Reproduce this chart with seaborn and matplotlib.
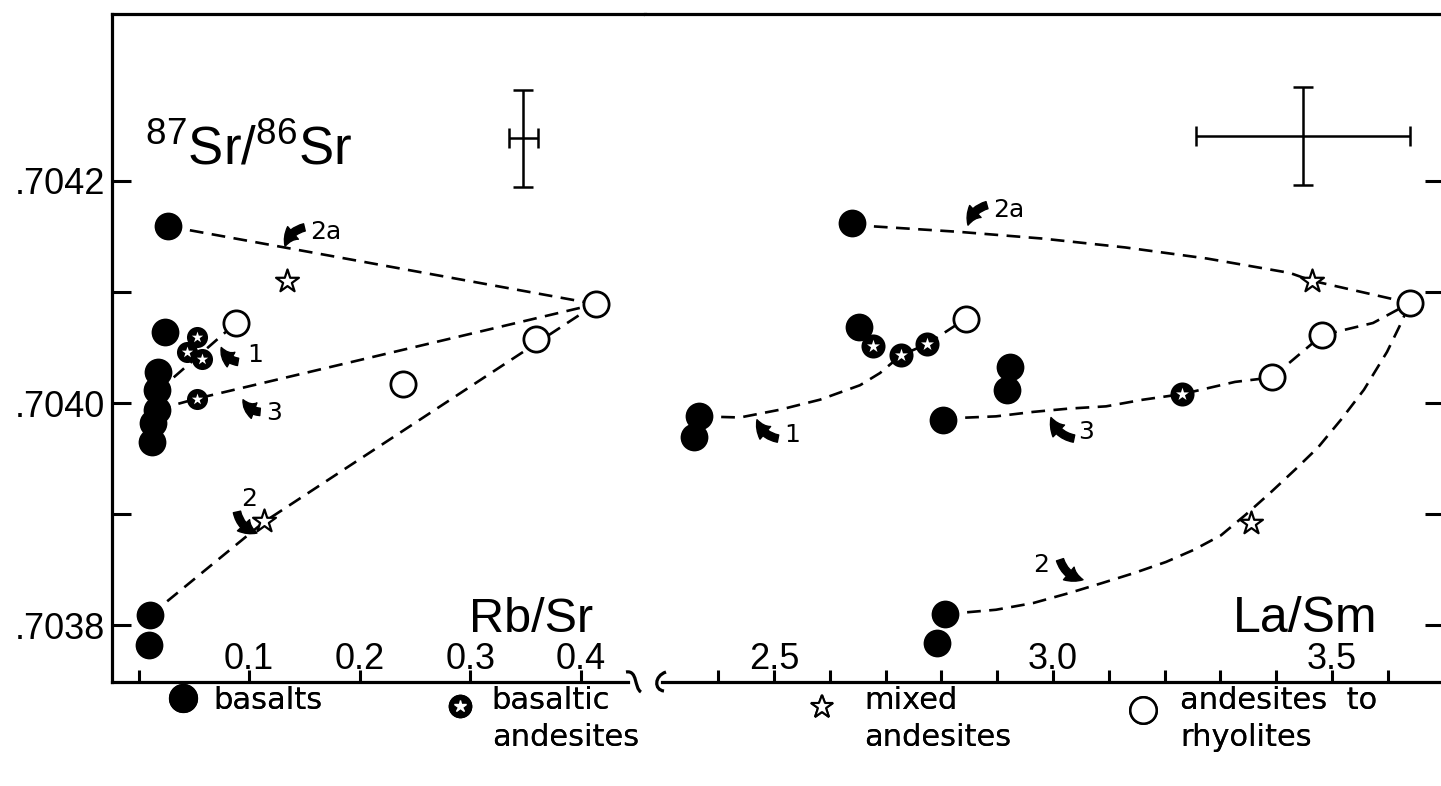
import matplotlib
matplotlib.use("Agg")
import numpy as np
import matplotlib.pyplot as plt
import seaborn as sns
from matplotlib.lines import Line2D
from matplotlib.path import Path
from matplotlib.patches import PathPatch
from matplotlib.legend_handler import HandlerTuple, HandlerLine2D
from matplotlib.transforms import IdentityTransform

# ---------------- Rb/Sr panel ----------------
rbsr_basalt_x = [0.0267, 0.0240, 0.0176, 0.0167, 0.0167, 0.0131, 0.0122, 0.0104, 0.0095]
rbsr_basalt_y = [0.704159, 0.704064, 0.704028, 0.704012, 0.703994, 0.703982, 0.703965, 0.703809, 0.703782]
rbsr_basand_x = [0.0529, 0.0439, 0.0574, 0.0529]
rbsr_basand_y = [0.704059, 0.704046, 0.704040, 0.704004]
rbsr_mixed_x = [0.1343, 0.1135]
rbsr_mixed_y = [0.704110, 0.703894]
rbsr_silicic_x = [0.0882, 0.2392, 0.3594, 0.4137]
rbsr_silicic_y = [0.704072, 0.704017, 0.704058, 0.704089]

rbsr_curve_2a_x = [0.0267, 0.4137]
rbsr_curve_2a_y = [0.704159, 0.704089]
rbsr_curve_1_x = [0.0167, 0.0882]
rbsr_curve_1_y = [0.704010, 0.704072]
rbsr_curve_3_x = [0.0167, 0.0529, 0.4137]
rbsr_curve_3_y = [0.703994, 0.704004, 0.704089]
rbsr_curve_2_x = [0.0104, 0.1135, 0.4137]
rbsr_curve_2_y = [0.703809, 0.703893, 0.704089]

# ---------------- La/Sm panel ----------------
lasm_basalt_x = [2.6398, 2.6523, 2.3656, 2.3566, 2.8029, 2.9229, 2.9176, 2.8065, 2.7921]
lasm_basalt_y = [0.704162, 0.704068, 0.703988, 0.703969, 0.703985, 0.704032, 0.704012, 0.703810, 0.703784]
lasm_basand_x = [2.6774, 2.7276, 2.7742, 3.2312]
lasm_basand_y = [0.704051, 0.704043, 0.704053, 0.704008]
lasm_mixed_x = [3.4642, 3.3548]
lasm_mixed_y = [0.704110, 0.703892]
lasm_silicic_x = [2.8441, 3.3925, 3.4821, 3.6398]
lasm_silicic_y = [0.704076, 0.704023, 0.704061, 0.704090]

lasm_curve_2a_x = [2.6398, 2.6756, 2.8315, 2.9803, 3.1290, 3.2760, 3.4247, 3.4642, 3.6398]
lasm_curve_2a_y = [0.704162, 0.704159, 0.704154, 0.704148, 0.704140, 0.704130, 0.704117, 0.704110, 0.704090]
lasm_curve_1_x = [2.3656, 2.4391, 2.5108, 2.5824, 2.6541, 2.6900, 2.7276, 2.7742, 2.8441]
lasm_curve_1_y = [0.703988, 0.703987, 0.703994, 0.704003, 0.704016, 0.704027, 0.704043, 0.704053, 0.704076]
lasm_curve_3_x = [2.8029, 2.8978, 2.9642, 3.0287, 3.0950, 3.1613, 3.2312, 3.3262, 3.3925, 3.4821, 3.5735, 3.6398]
lasm_curve_3_y = [0.703986, 0.703988, 0.703992, 0.703995, 0.703997, 0.704003, 0.704008, 0.704019, 0.704023, 0.704061, 0.704072, 0.704090]
lasm_curve_2_x = [2.8065, 2.8978, 2.9642, 3.0287, 3.0878, 3.1452, 3.2025, 3.2527, 3.3011, 3.3441, 3.3889,
                  3.4337, 3.4749, 3.5161, 3.5573, 3.5986, 3.6219, 3.6398]
lasm_curve_2_y = [0.703810, 0.703814, 0.703820, 0.703829, 0.703838, 0.703847, 0.703857, 0.703868, 0.703881,
                  0.703899, 0.703919, 0.703940, 0.703960, 0.703985, 0.704012, 0.704046, 0.704070, 0.704090]

# analytical uncertainty (centre, half-width, half-height)
rbsr_err = [0.3477, 0.704238, 0.0131, 0.000044]
lasm_err = [3.448, 0.704240, 0.1909, 0.000044]

# axis ticks and labels
y_ticks = [0.7038, 0.7039, 0.7040, 0.7041, 0.7042]
y_tick_labels = [".7038", "", ".7040", "", ".7042"]
rbsr_ticks = [0.0, 0.1, 0.2, 0.3, 0.4]
rbsr_tick_labels = ["", "0.1", "0.2", "0.3", "0.4"]
lasm_ticks = [2.4, 2.5, 2.6, 2.7, 2.8, 2.9, 3.0, 3.1, 3.2, 3.3, 3.4, 3.5, 3.6]
lasm_tick_labels = ["", "2.5", "", "", "", "", "3.0", "", "", "", "", "3.5", ""]

# trend arrows: label, text position, arrow head, arrow tail, bend
rbsr_arrows = [
    ("2a", (0.1550, 0.704154), (0.1325, 0.704141), (0.1500, 0.704158), 0.3),
    ("1", (0.0981, 0.704043), (0.0748, 0.704050), (0.0900, 0.704037), -0.3),
    ("3", (0.1153, 0.703991), (0.0945, 0.704003), (0.1099, 0.703992), -0.3),
    ("2", (0.0929, 0.703914), (0.1071, 0.703883), (0.0890, 0.703902), 0.3),
]
lasm_arrows = [
    ("2a", (2.8925, 0.704174), (2.8477, 0.704160), (2.8817, 0.704178), 0.3),
    ("1", (2.5179, 0.703971), (2.4695, 0.703985), (2.5072, 0.703968), -0.3),
    ("3", (3.0448, 0.703974), (2.9964, 0.703987), (3.0376, 0.703968), -0.3),
    ("2", (2.9642, 0.703854), (3.0538, 0.703841), (3.0125, 0.703859), 0.3),
]

legend_labels = ["basalts", "basaltic\nandesites", "mixed\nandesites", "andesites  to\nrhyolites"]

sns.set_theme(style="white")
plt.rcParams.update({
    "font.family": ["Liberation Sans", "DejaVu Sans"],
    "mathtext.fontset": "custom",
    "mathtext.rm": "Liberation Sans",
    "mathtext.it": "Liberation Sans:italic",
    "mathtext.bf": "Liberation Sans:bold",
    "axes.edgecolor": "black",
    "axes.linewidth": 2.3,
    "xtick.color": "black",
    "ytick.color": "black",
    "text.color": "black",
})

W, H, DPI = 1441, 786, 100
fig = plt.figure(figsize=(W / DPI, H / DPI), dpi=DPI, facecolor="white")


def px_box(x0, x1, y_top, y_bot):
    return [x0 / W, 1 - y_bot / H, (x1 - x0) / W, (y_bot - y_top) / H]


ax1 = fig.add_axes(px_box(112, 645, 14, 682))
ax2 = fig.add_axes(px_box(645, 1444, 14, 682))
YLIM = (0.703749, 0.704350)

DASH = (0, (5.2, 3.2))


def curve(ax, x, y):
    sns.lineplot(x=x, y=y, ax=ax, sort=False, estimator=None, color="black",
                 linewidth=1.9, linestyle=DASH, zorder=2, legend=False)


def samples(ax, bx, by, ax_, ay_, mx, my, sx, sy, ba_size):
    sns.scatterplot(x=bx, y=by, ax=ax, s=400, color="black", edgecolor="black",
                    linewidth=0, marker="o", zorder=4, legend=False)
    sns.scatterplot(x=ax_, y=ay_, ax=ax, s=ba_size, color="black", edgecolor="black",
                    linewidth=0, marker="o", zorder=5, legend=False)
    sns.scatterplot(x=ax_, y=ay_, ax=ax, s=ba_size * 0.32, color="white", edgecolor="white",
                    linewidth=0, marker="*", zorder=6, legend=False)
    sns.scatterplot(x=mx, y=my, ax=ax, s=300, color="white", edgecolor="black",
                    linewidth=1.6, marker="*", zorder=5, legend=False)
    sns.scatterplot(x=sx, y=sy, ax=ax, s=330, color="white", edgecolor="black",
                    linewidth=2.0, marker="o", zorder=5, legend=False)


def arrows(ax, items):
    for label, txy, head, tail, rad in items:
        ax.annotate("", xy=head, xytext=tail,
                    arrowprops=dict(arrowstyle="simple,head_length=0.8,head_width=0.85,tail_width=0.38",
                                    fc="black", ec="black", shrinkA=0, shrinkB=0,
                                    mutation_scale=14, connectionstyle=f"arc3,rad={rad}"),
                    zorder=7)
        ax.text(txy[0], txy[1], label, fontsize=18, family="DejaVu Sans",
                ha="left", va="center", zorder=7)


# Rb/Sr panel
for cx, cy in [(rbsr_curve_2a_x, rbsr_curve_2a_y), (rbsr_curve_1_x, rbsr_curve_1_y),
               (rbsr_curve_3_x, rbsr_curve_3_y), (rbsr_curve_2_x, rbsr_curve_2_y)]:
    curve(ax1, cx, cy)
samples(ax1, rbsr_basalt_x, rbsr_basalt_y, rbsr_basand_x, rbsr_basand_y,
        rbsr_mixed_x, rbsr_mixed_y, rbsr_silicic_x, rbsr_silicic_y, 230)
arrows(ax1, rbsr_arrows)
ax1.errorbar([rbsr_err[0]], [rbsr_err[1]], xerr=[rbsr_err[2]], yerr=[rbsr_err[3]], fmt="none",
             ecolor="black", elinewidth=1.8, capsize=7, capthick=1.8)

# La/Sm panel
for cx, cy in [(lasm_curve_2a_x, lasm_curve_2a_y), (lasm_curve_1_x, lasm_curve_1_y),
               (lasm_curve_3_x, lasm_curve_3_y), (lasm_curve_2_x, lasm_curve_2_y)]:
    curve(ax2, cx, cy)
samples(ax2, lasm_basalt_x, lasm_basalt_y, lasm_basand_x, lasm_basand_y,
        lasm_mixed_x, lasm_mixed_y, lasm_silicic_x, lasm_silicic_y, 300)
arrows(ax2, lasm_arrows)
ax2.errorbar([lasm_err[0]], [lasm_err[1]], xerr=[lasm_err[2]], yerr=[lasm_err[3]], fmt="none",
             ecolor="black", elinewidth=1.8, capsize=7, capthick=1.8)

# axes, spines and ticks
ax1.set_xlim(-0.0240, 0.4580)
ax2.set_xlim(2.2688, 3.7007)
for ax in (ax1, ax2):
    ax.set_ylim(*YLIM)
    ax.set_xlabel("")
    ax.set_ylabel("")
    ax.grid(False)

ax1.spines["right"].set_visible(False)
ax2.spines["left"].set_visible(False)
ax2.spines["right"].set_visible(False)
ax1.spines["bottom"].set_bounds(-0.0240, 0.4426)
ax2.spines["bottom"].set_bounds(2.2993, 3.7007)

ax1.set_yticks(y_ticks)
ax1.set_yticklabels(y_tick_labels)
ax1.tick_params(axis="y", direction="in", length=14, width=2.2, pad=5, labelsize=26,
                left=True, right=False)
ax1.set_xticks(rbsr_ticks)
ax1.set_xticklabels(rbsr_tick_labels)
ax1.tick_params(axis="x", direction="in", length=9, width=2.2, pad=-29, labelsize=26,
                bottom=True, top=False)

ax2.set_yticks(y_ticks)
ax2.yaxis.tick_right()
ax2.tick_params(axis="y", direction="in", length=14, width=2.2, labelright=False,
                labelleft=False, left=False, right=True)
ax2.set_xticks(lasm_ticks)
ax2.set_xticklabels(lasm_tick_labels)
ax2.tick_params(axis="x", direction="in", length=9, width=2.2, pad=-29, labelsize=26,
                bottom=True, top=False)

# axis titles drawn inside the frame
ax1.text(0.062, 0.774, r"$^{87}\mathregular{Sr/}^{86}\mathregular{Sr}$", transform=ax1.transAxes,
         fontsize=38, ha="left", va="baseline")
ax1.text(0.786, 0.075, "Rb/Sr", transform=ax1.transAxes, fontsize=35, ha="center", va="baseline")
ax2.text(0.826, 0.075, "La/Sm", transform=ax2.transAxes, fontsize=36, ha="center", va="baseline")

# axis-break squiggles on the abscissa
pix = IdentityTransform()
for verts in ([(626, 672), (638, 670), (634, 688), (641, 692)],
              [(666, 672), (654, 676), (654, 690), (664, 691)]):
    v = [(x, H - y) for x, y in verts]
    fig.patches.append(PathPatch(Path(v, [Path.MOVETO, Path.CURVE4, Path.CURVE4, Path.CURVE4]),
                                 transform=pix, fill=False, lw=2.3, ec="black", figure=fig))


class RaisedMarker(HandlerLine2D):
    """Legend marker lifted toward the first line of a two-line label."""

    def __init__(self, lift, **kw):
        super().__init__(**kw)
        self.lift = lift

    def create_artists(self, legend, orig_handle, xdescent, ydescent, width, height, fontsize, trans):
        arts = super().create_artists(legend, orig_handle, xdescent, ydescent, width, height,
                                      fontsize, trans)
        for a in arts:
            a.set_ydata(np.asarray(a.get_ydata(), dtype=float) + self.lift)
        return arts


# legend row
h_basalt = Line2D([], [], marker="o", ls="", mfc="black", mec="black", markersize=20)
h_basand = (Line2D([], [], marker="o", ls="", mfc="black", mec="black", markersize=16),
            Line2D([], [], marker="*", ls="", mfc="white", mec="white", markersize=9))
h_mixed = Line2D([], [], marker="*", ls="", mfc="white", mec="black", mew=1.5, markersize=17)
h_silicic = Line2D([], [], marker="o", ls="", mfc="white", mec="black", mew=1.8, markersize=19)

lifted = {h_basand[0]: RaisedMarker(10), h_basand[1]: RaisedMarker(10),
          h_mixed: RaisedMarker(9), h_silicic: RaisedMarker(7),
          tuple: HandlerTuple(ndivide=1, pad=0)}

entries = [(h_basalt, 168, 0.47), (h_basand, 445, 0.53), (h_mixed, 807, 0.88), (h_silicic, 1128, 0.70)]
for (handle, left_px, gap), label in zip(entries, legend_labels):
    lg = fig.legend([handle], [label], loc="upper left", bbox_to_anchor=(left_px / W, 1 - 686 / H),
                    frameon=False, prop={"family": "DejaVu Sans", "size": 22},
                    handlelength=1.0, handletextpad=gap, borderpad=0, borderaxespad=0,
                    handler_map=lifted)
    for t in lg.get_texts():
        t.set_linespacing(1.35)
    fig.add_artist(lg)

fig.savefig("out.png", dpi=DPI, facecolor="white")
